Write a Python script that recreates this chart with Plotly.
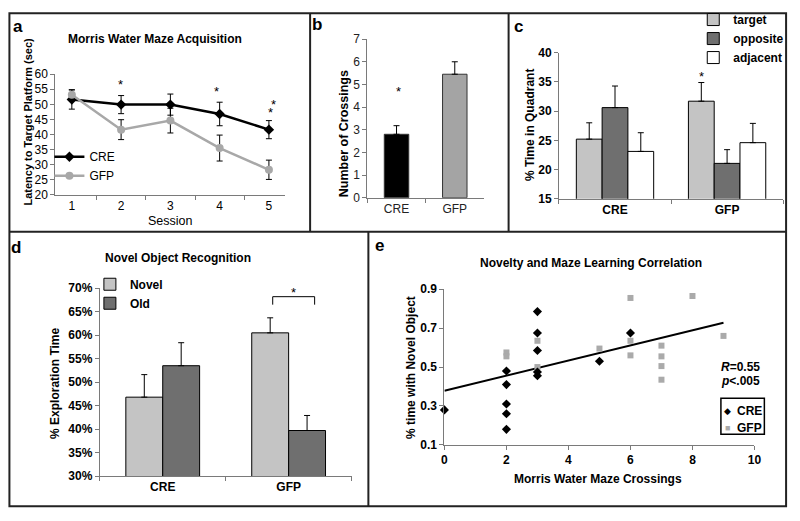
import plotly.graph_objects as go

W, H = 800, 521
def px(x): return x / W
def py(y): return 1 - y / H

FONT = "Arial, 'Liberation Sans', Helvetica, sans-serif"
LIGHT = "#c4c4c4"
DARK = "#6f6f6f"
GFPGRAY = "#a8a8a8"
AXIS = "#7a7a7a"
BORDER = "#222222"

# ---------------- data ----------------
# a: Morris water maze acquisition
sessions = ["1", "2", "3", "4", "5"]
cre_latency = [51.6, 49.9, 49.9, 46.8, 41.6]
cre_latency_err = [3.2, 3.0, 3.5, 3.9, 3.0]
gfp_latency = [53.2, 41.6, 44.6, 35.5, 28.3]
gfp_latency_err = [1.6, 3.3, 4.1, 4.3, 3.2]

# b: number of crossings
groups = ["CRE", "GFP"]
crossings = [2.8, 5.45]
crossings_err = [0.38, 0.55]

# c: % time in quadrant
quadrant_target = [25.2, 31.7]
quadrant_target_err = [2.8, 3.2]
quadrant_opposite = [30.6, 21.05]
quadrant_opposite_err = [3.7, 2.35]
quadrant_adjacent = [23.1, 24.6]
quadrant_adjacent_err = [3.2, 3.3]

# d: novel object recognition (% exploration time)
novel_pct = [46.8, 60.5]
novel_err = [4.8, 3.2]
old_pct = [53.5, 39.7]
old_err = [4.9, 3.2]

# e: correlation
cre_cross_x = [0, 2, 2, 2, 2, 2, 3, 3, 3, 3, 3, 5, 6]
cre_novel_y = [0.28, 0.48, 0.41, 0.31, 0.26, 0.18, 0.785, 0.675, 0.585, 0.475, 0.455, 0.53, 0.675]
gfp_cross_x = [2, 2, 3, 3, 5, 6, 6, 6, 7, 7, 7, 7, 8, 9]
gfp_novel_y = [0.575, 0.555, 0.635, 0.50, 0.595, 0.855, 0.635, 0.56, 0.61, 0.555, 0.505, 0.435, 0.865, 0.66]
trend_x = [0, 9]
trend_y = [0.378, 0.728]

fig = go.Figure()

def err(arr, up_only=False):
    d = dict(type="data", array=arr, color="black", thickness=1, width=3)
    if up_only:
        d.update(symmetric=False, arrayminus=[0] * len(arr))
    return d

# ---- a ----
fig.add_trace(go.Scatter(x=sessions, y=cre_latency, error_y=err(cre_latency_err),
                         mode="lines+markers", name="CRE",
                         line=dict(color="black", width=2.5),
                         marker=dict(symbol="diamond", size=8, color="black"),
                         xaxis="x", yaxis="y", legend="legend", cliponaxis=False))
fig.add_trace(go.Scatter(x=sessions, y=gfp_latency, error_y=err(gfp_latency_err),
                         mode="lines+markers", name="GFP",
                         line=dict(color=GFPGRAY, width=2.5),
                         marker=dict(symbol="circle", size=8, color=GFPGRAY),
                         xaxis="x", yaxis="y", legend="legend", cliponaxis=False))

# ---- b ----
fig.add_trace(go.Bar(x=groups, y=crossings, width=0.42,
                     marker=dict(color=["black", "#a4a4a4"], line=dict(color="#333", width=1)),
                     error_y=err(crossings_err, True), showlegend=False,
                     xaxis="x2", yaxis="y2"))

# ---- c ----
bw_c = 0.23
for name, vals, e, col, k in [("target", quadrant_target, quadrant_target_err, LIGHT, -1.5),
                              ("opposite", quadrant_opposite, quadrant_opposite_err, DARK, -0.5),
                              ("adjacent", quadrant_adjacent, quadrant_adjacent_err, "white", 0.5)]:
    fig.add_trace(go.Bar(x=groups, y=vals, name=name, width=bw_c, offset=k * bw_c,
                         marker=dict(color=col, line=dict(color="black", width=1)),
                         error_y=err(e, True), xaxis="x3", yaxis="y3", legend="legend2"))

# ---- d ----
bw_d = 0.293
for name, vals, e, col, k in [("Novel", novel_pct, novel_err, LIGHT, -1),
                              ("Old", old_pct, old_err, DARK, 0)]:
    fig.add_trace(go.Bar(x=groups, y=vals, name=name, width=bw_d, offset=k * bw_d,
                         marker=dict(color=col, line=dict(color="black", width=1)),
                         error_y=err(e, True), xaxis="x4", yaxis="y4", legend="legend3"))

# ---- e ----
fig.add_trace(go.Scatter(x=trend_x, y=trend_y, mode="lines", line=dict(color="black", width=2),
                         showlegend=False, xaxis="x5", yaxis="y5"))
fig.add_trace(go.Scatter(x=gfp_cross_x, y=gfp_novel_y, mode="markers", name="GFP",
                         marker=dict(symbol="square", size=6, color="#aaaaaa"),
                         showlegend=False, xaxis="x5", yaxis="y5", cliponaxis=False))
fig.add_trace(go.Scatter(x=cre_cross_x, y=cre_novel_y, mode="markers", name="CRE",
                         marker=dict(symbol="diamond", size=7, color="black"),
                         showlegend=False, xaxis="x5", yaxis="y5", cliponaxis=False))

# ---------------- axes ----------------
def ax(**kw):
    base = dict(showline=True, linecolor=AXIS, linewidth=1, ticks="outside", ticklen=4,
                tickcolor=AXIS, showgrid=False, zeroline=False, fixedrange=True,
                tickfont=dict(family=FONT, size=12, color="black"))
    base.update(kw)
    return base

bold12 = dict(family=FONT, size=12, color="black", weight="bold")

fig.update_layout(
    xaxis=ax(domain=[px(53), px(286)], type="category", tickson="boundaries", anchor="y"),
    yaxis=ax(domain=[py(193), py(69)], range=[20, 60], dtick=5, anchor="x"),
    xaxis2=ax(domain=[px(369), px(487)], type="category", tickson="boundaries", anchor="y2",
              tickfont=dict(family=FONT, size=12, color="#222")),
    yaxis2=ax(domain=[py(196), py(33)], range=[0, 7], dtick=1, anchor="x2",
              tickfont=dict(family=FONT, size=12, color="#222")),
    xaxis3=ax(domain=[px(563), px(790)], type="category", tickson="boundaries", anchor="y3",
              tickfont=bold12),
    yaxis3=ax(domain=[py(197), py(47)], range=[15, 40], dtick=5, anchor="x3", tickfont=bold12),
    xaxis4=ax(domain=[px(98), px(353)], type="category", tickson="boundaries", anchor="y4",
              tickfont=bold12),
    yaxis4=ax(domain=[py(482), py(289)], range=[30, 70], dtick=5, ticksuffix="%", anchor="x4",
              tickfont=bold12),
    xaxis5=ax(domain=[px(447), px(761)], range=[0, 10], dtick=2, anchor="y5", tickfont=bold12),
    yaxis5=ax(domain=[py(450), py(290)], range=[0.1, 0.9], tick0=0.1, dtick=0.2,
              tickformat=".1f", anchor="x5", tickfont=bold12),
    barmode="overlay",
    width=W, height=H,
    margin=dict(l=0, r=0, t=0, b=0),
    paper_bgcolor="white", plot_bgcolor="white",
    font=dict(family=FONT, size=12, color="black"),
    legend=dict(x=px(47), y=py(139), xanchor="left", yanchor="top",
                bgcolor="rgba(0,0,0,0)", font=dict(family=FONT, size=12)),
    legend2=dict(x=px(699), y=py(-2), xanchor="left", yanchor="top",
                 bgcolor="rgba(0,0,0,0)", font=bold12, tracegroupgap=2),
    legend3=dict(x=px(88), y=py(270), xanchor="left", yanchor="top",
                 bgcolor="rgba(0,0,0,0)", font=bold12),
)

# ---------------- panel borders ----------------
line = dict(color=BORDER, width=2)
shapes = [
    dict(type="rect", xref="paper", yref="paper", x0=px(6.5), x1=px(793), y0=py(513), y1=py(6.5), line=line),
    dict(type="line", xref="paper", yref="paper", x0=px(6.5), x1=px(793), y0=py(231), y1=py(231), line=line),
    dict(type="line", xref="paper", yref="paper", x0=px(311), x1=px(311), y0=py(6.5), y1=py(231), line=line),
    dict(type="line", xref="paper", yref="paper", x0=px(512), x1=px(512), y0=py(6.5), y1=py(231), line=line),
    dict(type="line", xref="paper", yref="paper", x0=px(370), x1=px(370), y0=py(231), y1=py(513), line=line),
]

# significance bracket in d (between the GFP Novel and Old bar centres)
gfp_i = 1
bx0 = gfp_i - bw_d / 2 + 0.02
bx1 = gfp_i + bw_d / 2 + 0.06
by_top = max(novel_pct[1] + novel_err[1], old_pct[1] + old_err[1]) + 4.5
shapes += [
    dict(type="line", xref="x4", yref="y4", x0=bx0, x1=bx0, y0=by_top - 1.7, y1=by_top, line=dict(color="black", width=1)),
    dict(type="line", xref="x4", yref="y4", x0=bx0, x1=bx1, y0=by_top, y1=by_top, line=dict(color="black", width=1)),
    dict(type="line", xref="x4", yref="y4", x0=bx1, x1=bx1, y0=by_top - 1.7, y1=by_top, line=dict(color="black", width=1)),
]
# custom legend box for e
shapes.append(dict(type="rect", xref="paper", yref="paper", x0=px(727), x1=px(771), y0=py(439), y1=py(402),
                   line=dict(color="black", width=1.5), fillcolor="white"))
fig.update_layout(shapes=shapes)

# ---------------- annotations ----------------
ann = []
def text(x, y, s, size=12, bold=False, angle=0, xanchor="center", color="black", **kw):
    f = dict(family=FONT, size=size, color=color)
    if bold:
        f["weight"] = "bold"
    d = dict(x=x, y=y, xref="paper", yref="paper", text=s, showarrow=False, font=f,
             textangle=angle, xanchor=xanchor, yanchor="middle")
    d.update(kw)
    ann.append(d)

# panel letters
for lab, x, y in [("a", 15, 20), ("b", 318, 18), ("c", 522, 20), ("d", 13, 247), ("e", 381, 245)]:
    text(px(x), py(y), lab, size=17, bold=True)

# titles
text(px(154), py(33), "Morris Water Maze Acquisition", bold=True)
text(px(177), py(258), "Novel Object Recognition", bold=True)
text(px(595), py(263), "Novelty and Maze Learning Correlation", bold=True)

# axis titles
text(px(25), py(118), "Latency to Target Platform (sec)", size=11, bold=True, angle=-90)
text(px(170), py(220), "Session", size=12.5)
text(px(345), py(130), "Number of Crossings", size=12.5, bold=True, angle=-90)
text(px(533), py(121), "% Time in Quadrant", bold=True, angle=-90)
text(px(52), py(387), "% Exploration Time", bold=True, angle=-90)
text(px(413), py(370), "% time with Novel Object", bold=True, angle=-90)
text(px(603), py(485), "Morris Water Maze Crossings", bold=True)

# R and p
text(px(769), py(370), "<i>R</i>=0.55", bold=True, xanchor="right")
text(px(769), py(384), "<i>p</i>&lt;.005", bold=True, xanchor="right")

# e legend entries
text(px(734), py(415), "◆", size=9)
text(px(741), py(415), "CRE", bold=True, xanchor="left")
text(px(734), py(433), "■", size=9, color="#aaaaaa")
text(px(741), py(433), "GFP", bold=True, xanchor="left")

# significance stars (category positions given as indices)
def star(xref, yref, x, y, yshift, xshift=0):
    ann.append(dict(x=x, y=y, xref=xref, yref=yref, text="*", showarrow=False,
                    font=dict(family=FONT, size=13, color="black"),
                    xanchor="center", yanchor="middle", yshift=yshift - 3, xshift=xshift))

for s, dy, dx in [(1, 14, -1), (3, 14, -3), (4, 11, 2), (4, 19, 5)]:
    star("x", "y", s, cre_latency[s] + cre_latency_err[s], dy, dx)
star("x2", "y2", 0, crossings[0] + crossings_err[0], 37, 2)
star("x3", "y3", 1 - 1.0 * bw_c, quadrant_target[1] + quadrant_target_err[1], 9)
star("x4", "y4", (bx0 + bx1) / 2, by_top, 7)

fig.update_layout(annotations=ann)

fig.write_html("out.html", config={"displayModeBar": False},
               post_script="document.body.style.margin='0';document.body.style.overflow='hidden';")
